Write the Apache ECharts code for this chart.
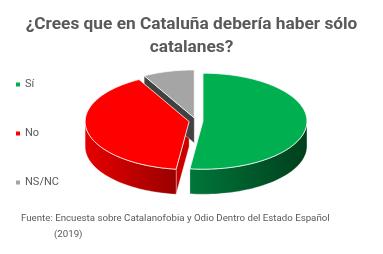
<!DOCTYPE html>
<html>
<head>
<meta charset="utf-8">
<script src="https://cdn.jsdelivr.net/npm/echarts@6/dist/echarts.min.js"></script>
<style>
html,body{margin:0;padding:0;background:#fff;}
#chart{width:383px;height:254px;}
</style>
</head>
<body>
<div id="chart"></div>
<script>
// ---- data ----
var categories = ['Sí', 'No', 'NS/NC'];
var values = [52, 40, 8];
var titleLines = ['¿Crees que en Cataluña debería haber sólo', 'catalanes?'];
var sourceLines = ['Fuente: Encuesta sobre Catalanofobia y Odio Dentro del Estado Español', '(2019)'];

// ---- style ----
var topColors = ['#00B050', '#FF0000', '#A5A5A5'];
var wallColors = [['#00763A', '#003F1D'], ['#E60000', '#9A0000'], ['#606060', '#3A3A3A']];
var cutColors = ['#006A34', '#C80000', '#414141'];

var geo = { cx: 196, cy: 121, rx: 104, ry: 48, h: 25, explode: 0.067 };
var total = values.reduce(function (a, b) { return a + b; }, 0);
var DEG = Math.PI / 180;

function makeRender(idx) {
  return function (params, api) {
    var before = 0;
    for (var k = 0; k < idx; k++) before += values[k];
    var v = api.value(0);
    var a0 = before / total * 360;
    var a1 = (before + v) / total * 360;
    var mid = (a0 + a1) / 2 * DEG;
    var cxs = geo.cx + geo.explode * geo.rx * Math.sin(mid);
    var cys = geo.cy - geo.explode * geo.ry * Math.cos(mid);
    function pt(thDeg, dy) {
      var t = thDeg * DEG;
      return [cxs + geo.rx * Math.sin(t), cys - geo.ry * Math.cos(t) + (dy || 0)];
    }
    function arc(from, to, dy) {
      var pts = [];
      var n = Math.max(2, Math.ceil(Math.abs(to - from) / 2));
      for (var i = 0; i <= n; i++) pts.push(pt(from + (to - from) * i / n, dy));
      return pts;
    }
    var children = [];
    var w0 = Math.max(a0, 90), w1 = Math.min(a1, 270);
    if (w1 > w0) {
      var poly = arc(w0, w1, 0).concat(arc(w1, w0, geo.h));
      children.push({
        type: 'polygon', z2: 2,
        shape: { points: poly },
        style: {
          fill: { type: 'linear', x: 0, y: 0, x2: 1, y2: 0,
            colorStops: [{ offset: 0, color: wallColors[idx][0] }, { offset: 1, color: wallColors[idx][1] }] },
          stroke: 'rgba(255,255,255,0.5)', lineWidth: 0.6
        }
      });
    }
    function cut(th) {
      var e = pt(th, 0), eb = pt(th, geo.h);
      children.push({
        type: 'polygon', z2: 1,
        shape: { points: [[cxs, cys], e, eb, [cxs, cys + geo.h]] },
        style: { fill: cutColors[idx], stroke: 'rgba(255,255,255,0.6)', lineWidth: 0.6 }
      });
    }
    if (Math.sin(a0 * DEG) < -1e-6) cut(a0);
    if (Math.sin(a1 * DEG) > 1e-6) cut(a1);
    children.push({
      type: 'polygon', z2: 10,
      shape: { points: [[cxs, cys]].concat(arc(a0, a1, 0)) },
      style: { fill: topColors[idx], stroke: '#ffffff', lineWidth: 0.8 }
    });
    return { type: 'group', children: children };
  };
}

var series = categories.map(function (name, i) {
  return {
    type: 'custom',
    name: name,
    coordinateSystem: 'none',
    itemStyle: { color: topColors[i] },
    renderItem: makeRender(i),
    data: [[values[i]]],
    silent: true,
    animation: false
  };
});

var chart = echarts.init(document.getElementById('chart'), null, { renderer: 'canvas' });
chart.setOption({
  backgroundColor: '#ffffff',
  animation: false,
  title: [
    {
      text: titleLines.join('\n'),
      left: 'center', top: 8,
      textStyle: { fontFamily: 'Roboto', fontWeight: 'bold', fontSize: 17.3, color: '#595959', lineHeight: 23 }
    },
    {
      text: sourceLines[0], left: 21, top: 214, padding: 0,
      textStyle: { fontFamily: 'Roboto', fontWeight: 'normal', fontSize: 9.7, color: '#595959' }
    },
    {
      text: sourceLines[1], left: 54, top: 230, padding: 0,
      textStyle: { fontFamily: 'Roboto', fontWeight: 'normal', fontSize: 9.7, color: '#595959' }
    }
  ],
  legend: {
    orient: 'vertical', left: 16, top: 77.5, padding: 0,
    icon: 'rect', itemWidth: 4, itemHeight: 4, itemGap: 35,
    textStyle: { fontFamily: 'Roboto', fontSize: 11, color: '#595959', lineHeight: 14, padding: [0, 0, 0, 0] },
    data: categories
  },
  series: series
});
</script>
</body>
</html>
